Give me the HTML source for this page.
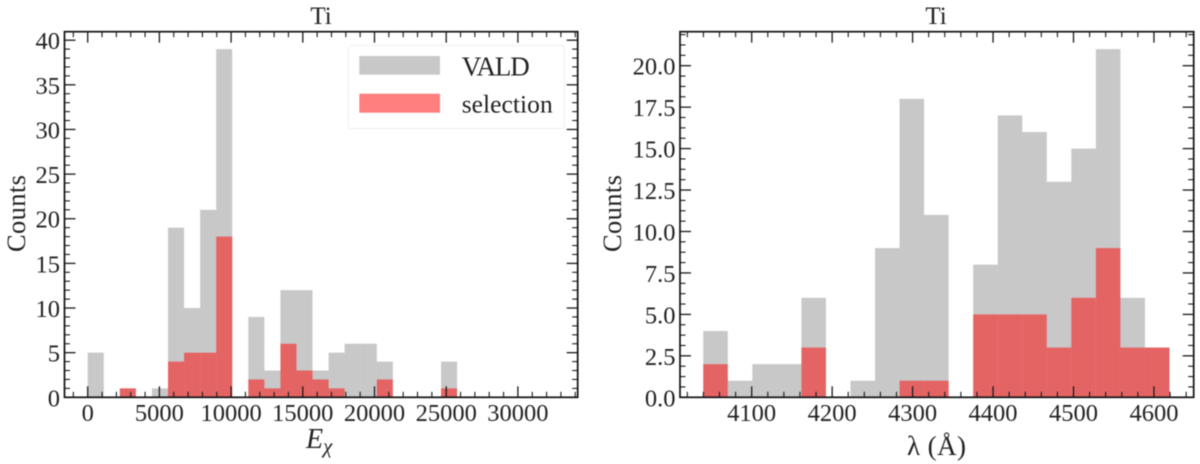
<!DOCTYPE html>
<html lang="en">
<head>
<meta charset="utf-8">
<title>Ti histograms</title>
<style>
html,body{margin:0;padding:0;background:#fff;width:1200px;height:464px;overflow:hidden}
svg{display:block;filter:blur(0.5px)}
text{font-family:"Liberation Serif",serif;font-size:24.5px;fill:#222}
</style>
</head>
<body>
<svg id="chart" xmlns="http://www.w3.org/2000/svg" width="1200" height="464" viewBox="0 0 1200 464">
  <rect x="0" y="0" width="1200" height="464" fill="#fff"/>
  <g id="panel-left"></g>
  <g id="panel-right"></g>

  <text x="321" y="24" text-anchor="middle" style="font-size:25px">Ti</text>
  <text x="936" y="24" text-anchor="middle" style="font-size:25px">Ti</text>
  <text transform="translate(25,252) rotate(-90)" textLength="77" lengthAdjust="spacing" style="font-size:26.5px">Counts</text>
  <text transform="translate(621,252) rotate(-90)" textLength="77" lengthAdjust="spacing" style="font-size:26.5px">Counts</text>
  <text x="306" y="448"><tspan font-style="italic" style="font-size:28px">E</tspan><tspan font-style="italic" style="font-size:21px" dy="5">χ</tspan></text>
  <text x="907" y="455" textLength="59" lengthAdjust="spacing" style="font-size:27px">λ (Å)</text>

  <g>
    <rect x="348.5" y="45.5" width="216" height="83" rx="3" fill="#fff" fill-opacity="0.8" stroke="#eeeeee" stroke-width="1"/>
    <rect x="359.3" y="56" width="80.7" height="18.7" fill="#808080" fill-opacity="0.43"/>
    <text x="461.7" y="75.3" textLength="68" lengthAdjust="spacing" style="font-size:27px">VALD</text>
    <rect x="359.3" y="93.7" width="80.7" height="19" fill="#ff0000" fill-opacity="0.5"/>
    <text x="461.7" y="112.7" textLength="91" lengthAdjust="spacing" style="font-size:25.5px">selection</text>
  </g>
</svg>
<script>
// Left panel data: excitation energy histogram
const energyBinStart = 0;
const energyBinWidth = 1120;
const energyVald = [5,0,1,0,1,19,10,21,39,0,9,3,12,12,3,5,6,6,4,0,0,0,4];
const energySelection = [0,0,1,0,0,4,5,5,18,0,2,1,6,3,2,1,0,0,2,0,0,0,1];
const energyXTicks = [0,5000,10000,15000,20000,25000,30000];
const energyXLabels = ["0","5000","10000","15000","20000","25000","30000"];
const energyYTicks = [0,5,10,15,20,25,30,35,40];
const energyYLabels = ["0","5","10","15","20","25","30","35","40"];

// Right panel data: wavelength histogram
const waveBinStart = 4039.8;
const waveBinWidth = 30.5;
const waveVald = [4,1,2,2,6,0,1,9,18,11,0,8,17,16,13,15,21,6,3];
const waveSelection = [2,0,0,0,3,0,0,0,1,1,0,5,5,5,3,6,9,3,3];
const waveXTicks = [4100,4200,4300,4400,4500,4600];
const waveXLabels = ["4100","4200","4300","4400","4500","4600"];
const waveYTicks = [0,2.5,5,7.5,10,12.5,15,17.5,20];
const waveYLabels = ["0.0","2.5","5.0","7.5","10.0","12.5","15.0","17.5","20.0"];

const NS = "http://www.w3.org/2000/svg";
const INK = "#1a1a1a";

function svgEl(tag, attrs) {
  const el = document.createElementNS(NS, tag);
  for (const k in attrs) el.setAttribute(k, attrs[k]);
  return el;
}

function drawPanel(root, o) {
  const sx = v => o.left + (v - o.xMin) / (o.xMax - o.xMin) * (o.right - o.left);
  const sy = v => o.bottom - (v - o.yMin) / (o.yMax - o.yMin) * (o.bottom - o.top);

  o.vald.forEach((c, i) => {
    if (!c) return;
    const x0 = sx(o.binStart + i * o.binWidth), x1 = sx(o.binStart + (i + 1) * o.binWidth);
    const r = svgEl("rect", {x: x0, y: sy(c), width: x1 - x0, height: sy(0) - sy(c), fill: "#808080", "fill-opacity": 0.43});
    
    
    root.appendChild(r);
  });
  o.selection.forEach((c, i) => {
    if (!c) return;
    const x0 = sx(o.binStart + i * o.binWidth), x1 = sx(o.binStart + (i + 1) * o.binWidth);
    const r = svgEl("rect", {x: x0, y: sy(c), width: x1 - x0, height: sy(0) - sy(c), fill: "#ff0000", "fill-opacity": 0.5});
    
    
    root.appendChild(r);
  });

  const tick = (x1, y1, x2, y2, major) => {
    const t = svgEl("line", {x1, y1, x2, y2, stroke: INK, "stroke-width": major ? 1.3 : 1.1});
    
    
    root.appendChild(t);
  };
  const MAJ = 11, MIN = 5.5;

  for (let v = o.xTicks[0] - o.xMinor * Math.floor((o.xTicks[0] - o.xMin) / o.xMinor); v <= o.xMax; v += o.xMinor) {
    const major = o.xTicks.includes(Math.round(v * 1000) / 1000);
    const len = major ? MAJ : MIN, x = sx(v);
    tick(x, o.bottom, x, o.bottom - len, major);
    tick(x, o.top, x, o.top + len, major);
  }
  for (let v = 0; v <= o.yMax; v += o.yMinor) {
    const major = o.yTicks.includes(Math.round(v * 1000) / 1000);
    const len = major ? MAJ : MIN, y = sy(v);
    tick(o.left, y, o.left + len, y, major);
    tick(o.right, y, o.right - len, y, major);
  }

  const frame = svgEl("rect", {x: o.left, y: o.top, width: o.right - o.left, height: o.bottom - o.top, fill: "none", stroke: "#111", "stroke-width": 1.7});
  
  
  root.appendChild(frame);

  o.xTicks.forEach((v, i) => {
    const t = svgEl("text", {x: sx(v), y: o.bottom + 23.5, "text-anchor": "middle"});
    t.textContent = o.xLabels[i];
    
    
    root.appendChild(t);
  });
  o.yTicks.forEach((v, i) => {
    const t = svgEl("text", {x: o.left - 4.5, y: sy(v) + 9, "text-anchor": "end"});
    t.textContent = o.yLabels[i];
    
    
    root.appendChild(t);
  });
}

drawPanel(document.getElementById("panel-left"), {
  left: 64.5, right: 577.7, top: 31.7, bottom: 397.3,
  xMin: -1617, xMax: 34170, yMin: 0, yMax: 40.95,
  xMinor: 1000, yMinor: 1,
  binStart: energyBinStart, binWidth: energyBinWidth,
  vald: energyVald, selection: energySelection,
  xTicks: energyXTicks, xLabels: energyXLabels,
  yTicks: energyYTicks, yLabels: energyYLabels
});
drawPanel(document.getElementById("panel-right"), {
  left: 680, right: 1193.7, top: 31.7, bottom: 397.3,
  xMin: 4010.9, xMax: 4649.4, yMin: 0, yMax: 22.05,
  xMinor: 20, yMinor: 0.625,
  binStart: waveBinStart, binWidth: waveBinWidth,
  vald: waveVald, selection: waveSelection,
  xTicks: waveXTicks, xLabels: waveXLabels,
  yTicks: waveYTicks, yLabels: waveYLabels
});
</script>
</body>
</html>
